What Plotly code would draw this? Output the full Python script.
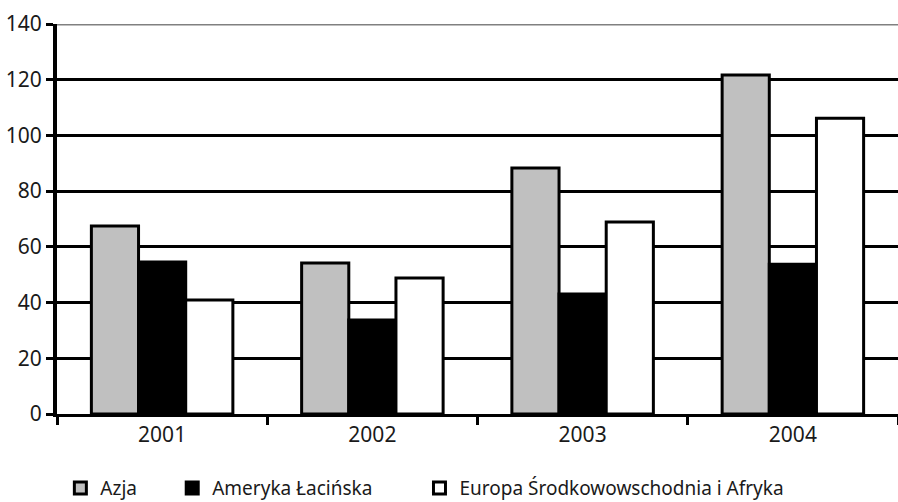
import plotly.graph_objects as go

years = ["2001", "2002", "2003", "2004"]
azja = [67.5, 54.2, 88.3, 121.7]
ameryka = [54.6, 33.7, 43.1, 53.8]
europa = [40.9, 48.8, 68.9, 106.2]

series = [
    ("Azja", azja, "#c0c0c0", "legend"),
    ("Ameryka Łacińska", ameryka, "#000000", "legend2"),
    ("Europa Środkowowschodnia i Afryka", europa, "#ffffff", "legend3"),
]

tick_font = dict(family="Noto Sans", size=21, color="#1a1a1a")
legend_font = dict(family="Noto Sans", size=19, color="#1a1a1a")

fig = go.Figure()
for name, vals, color, leg in series:
    fig.add_trace(go.Bar(
        x=years, y=vals, name=name, legend=leg, showlegend=True,
        marker=dict(color=color, line=dict(color="#000000", width=3)),
    ))

legend_common = dict(orientation="h", y=-0.19, yanchor="middle",
                     xanchor="left", font=legend_font,
                     bgcolor="rgba(0,0,0,0)")

fig.update_layout(
    width=898, height=502,
    margin=dict(l=57, r=0, t=24, b=88, autoexpand=False),
    paper_bgcolor="white", plot_bgcolor="white",
    font=tick_font, showlegend=True,
    barmode="group", bargap=0.327, bargroupgap=0,
    legend=dict(x=0.004, **legend_common),
    legend2=dict(x=0.137, **legend_common),
    legend3=dict(x=0.431, **legend_common),
    xaxis=dict(
        showline=True, linecolor="#000000", linewidth=3,
        ticks="outside", tickson="boundaries", ticklen=8, tickwidth=3,
        tickcolor="#000000", showgrid=False, tickfont=tick_font,
    ),
    yaxis=dict(
        range=[0, 140], tickvals=[0, 20, 40, 60, 80, 100, 120, 140],
        showline=True, linecolor="#000000", linewidth=4,
        ticks="outside", ticklen=7, tickwidth=3, tickcolor="#000000",
        showgrid=True, gridcolor="#000000", gridwidth=3,
        zeroline=False, tickfont=tick_font,
    ),
    shapes=[dict(type="line", xref="paper", yref="y", x0=0, x1=1,
                 y0=140, y1=140, line=dict(color="#808080", width=3),
                 layer="above")],
)

fig.write_html("out.html")
